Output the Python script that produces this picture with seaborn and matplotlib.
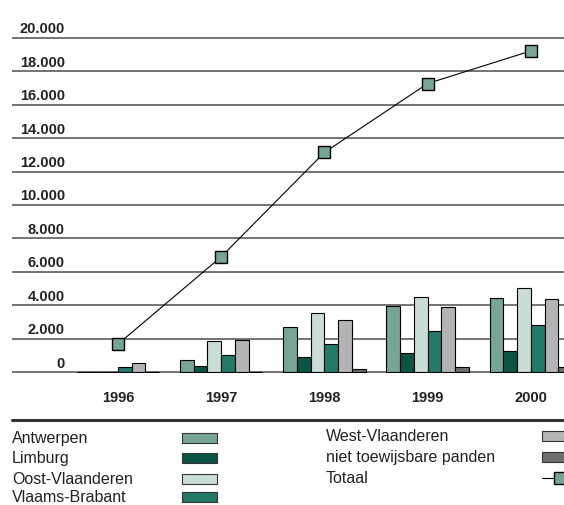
import numpy as np
import pandas as pd
import seaborn as sns
import matplotlib.pyplot as plt
import matplotlib.transforms as mtransforms
from matplotlib.patches import Rectangle
from matplotlib.lines import Line2D

years = ['1996', '1997', '1998', '1999', '2000']
regions = ['Antwerpen', 'Limburg', 'Oost-Vlaanderen', 'Vlaams-Brabant',
           'West-Vlaanderen', 'niet toewijsbare panden']
antwerpen = [0, 710, 2700, 3970, 4440]
limburg = [0, 400, 930, 1170, 1250]
oost_vl = [30, 1890, 3570, 4480, 5020]
vl_brabant = [300, 1050, 1710, 2480, 2820]
west_vl = [530, 1950, 3140, 3890, 4400]
niet_toew = [0, 30, 220, 320, 300]
totaal = [1680, 6900, 13140, 17260, 19210]
yticks = [0, 2000, 4000, 6000, 8000, 10000, 12000, 14000, 16000, 18000, 20000]

colors = ['#76a596', '#0b5445', '#c9dcd5', '#23796a', '#b4b4b6', '#6e6e70']
palette = dict(zip(regions, colors))

series = [antwerpen, limburg, oost_vl, vl_brabant, west_vl, niet_toew]
df = pd.DataFrame({
    'jaar': years * len(regions),
    'regio': np.repeat(regions, len(years)),
    'panden': np.concatenate(series),
})

sns.set_style('white')
plt.rcParams['font.family'] = ['Liberation Sans', 'DejaVu Sans']

fig = plt.figure(figsize=(5.64, 5.06), dpi=100)
ax = fig.add_axes([12 / 564, 132 / 506, 1 - 12 / 564, 336 / 506])

sns.barplot(data=df, x='jaar', y='panden', hue='regio', order=years,
            hue_order=regions, palette=palette, width=0.8,
            edgecolor='black', linewidth=0.8, saturation=1, legend=False, ax=ax)
sns.lineplot(x=np.arange(len(years)), y=totaal, ax=ax, color='black', lw=0.8,
             marker='s', markersize=9, markerfacecolor='#76a596',
             markeredgecolor='black', markeredgewidth=1, zorder=5)

ax.set_xlim(-1.025, 4.32)
ax.set_ylim(-40, 20040)
ax.set_yticks(yticks)
ax.set_yticklabels([f'{v:,}'.replace(',', '.') for v in yticks],
                   fontweight='bold', fontsize=10.5)
ax.set_xticks(range(len(years)))
ax.set_xticklabels(years, fontweight='bold', fontsize=10.5)
ax.set_xlabel('')
ax.set_ylabel('')
ax.yaxis.grid(True, color='#4d4d4d', lw=1.1)
ax.set_axisbelow(True)
ax.tick_params(axis='y', length=0, pad=-38, colors='#222222')
ax.tick_params(axis='x', length=0, pad=12, colors='#222222')
for s in ax.spines.values():
    s.set_visible(False)

shift = mtransforms.ScaledTranslation(0, 0.11, fig.dpi_scale_trans)
for lab in ax.get_yticklabels():
    lab.set_transform(lab.get_transform() + shift)

# separator above the legend
fig.add_artist(Line2D([12 / 564, 1], [1 - 421 / 506] * 2, color='#333333', lw=2.2))

# legend: text left, swatch in its own column
rows = [(regions[0], 12, 182, 439), (regions[1], 12, 182, 459),
        (regions[2], 12, 182, 479.5), (regions[3], 12, 182, 498),
        (regions[4], 326, 542, 437), (regions[5], 326, 542, 458)]
for name, tx, px, py in rows:
    fig.text(tx / 564, 1 - py / 506, name, fontsize=11.5, va='center',
             color='#222222')
    fig.add_artist(Rectangle((px / 564, 1 - (py + 5) / 506), 35 / 564, 10 / 506,
                             facecolor=palette[name], edgecolor='#333333',
                             lw=0.8, transform=fig.transFigure))
fig.text(326 / 564, 1 - 479 / 506, 'Totaal', fontsize=11.5, va='center',
         color='#222222')
fig.add_artist(Line2D([542 / 564, 560 / 564], [1 - 479 / 506] * 2, color='black',
                      lw=0.8, marker='s', markersize=9, markevery=[1],
                      markerfacecolor='#76a596', markeredgecolor='black'))

fig.savefig('out.png', dpi=100)
